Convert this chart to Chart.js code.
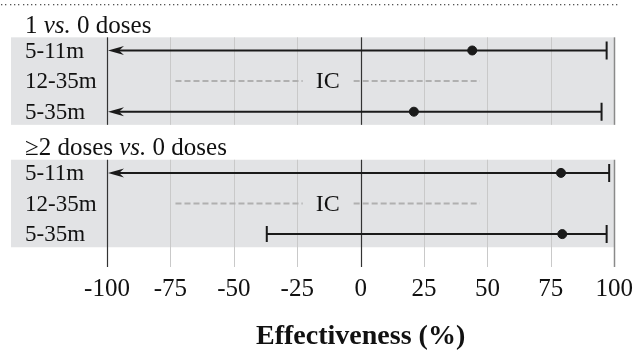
<!DOCTYPE html>
<html>
<head>
<meta charset="utf-8">
<script src="https://cdn.jsdelivr.net/npm/chart.js@4.4.1/dist/chart.umd.min.js"></script>
<style>
  html, body { margin: 0; padding: 0; background: #fff; }
  #wrap { width: 640px; height: 351px; }
</style>
</head>
<body>
<div id="wrap"><canvas id="effChart" width="640" height="351"></canvas></div>
<script>
// comparisons (panels) and age bands (rows)
const comparisons = [['1 ', 'vs.', ' 0 doses'], ['\u22652 doses ', 'vs.', ' 0 doses']];
const ageBands = ['5-11m', '12-35m', '5-35m'];

// point estimates, null = IC (insufficient cases)
const estimate1 = [44, null, 21];
const estimate2 = [79, null, 79.5];
// lower CI, null = extends past -100 (arrow)
const lower1 = [null, null, null];
const lower2 = [null, null, -37];
// upper CI
const upper1 = [97, null, 95];
const upper2 = [98, null, 97];

// range of the dashed IC placeholder
const icRange = [-73, 47];
const xTicks = [-100, -75, -50, -25, 0, 25, 50, 75, 100];

const estimates = [estimate1, estimate2];
const lowers = [lower1, lower2];
const uppers = [upper1, upper2];

const rowY = (p, r) => p * 4 + r;

const pointData = [];
estimates.forEach((est, p) => {
    est.forEach((v, r) => {
        if (v !== null) pointData.push({ x: v, y: rowY(p, r) });
    });
});

const serif = "'Liberation Serif', 'Times New Roman', serif";

const forestPlugin = {
    id: 'forest',
    beforeDatasetsDraw(chart) {
        const { ctx, chartArea, scales: { x, y } } = chart;
        const half = 0.43;
        ctx.save();

        // dotted rule at top
        ctx.fillStyle = '#555';
        for (let px = 1; px < 620; px += 4.3) {
            ctx.fillRect(Math.round(px), 4, 1.3, 1.3);
        }

        comparisons.forEach((title, p) => {
            const top = y.getPixelForValue(rowY(p, 0) - half);
            const bot = y.getPixelForValue(rowY(p, 2) + half);
            ctx.fillStyle = '#e2e3e5';
            ctx.fillRect(11, top, chartArea.right - 11, bot - top);

            // grid lines inside the panel (last panel runs down to the axis)
            const lineBot = p === comparisons.length - 1 ? chartArea.bottom : bot;
            xTicks.forEach(t => {
                const px = Math.round(x.getPixelForValue(t)) + 0.5;
                if (t === -100 || t === 0) { ctx.strokeStyle = '#333'; ctx.lineWidth = 1.2; }
                else if (t === 100) { ctx.strokeStyle = '#8a8a8a'; ctx.lineWidth = 1.5; }
                else { ctx.strokeStyle = '#c9c9c9'; ctx.lineWidth = 1; }
                ctx.beginPath();
                ctx.moveTo(px, top);
                ctx.lineTo(px, lineBot);
                ctx.stroke();
            });

            // panel title, "vs." in italics
            ctx.fillStyle = '#111';
            ctx.textBaseline = 'alphabetic';
            ctx.textAlign = 'left';
            let tx = 25;
            const ty = y.getPixelForValue(rowY(p, -1)) + 13;
            title.forEach((part, i) => {
                ctx.font = (i === 1 ? 'italic ' : '') + '25px ' + serif;
                ctx.fillText(part, tx, ty);
                tx += ctx.measureText(part).width;
            });

            ctx.font = '23px ' + serif;
            ctx.textBaseline = 'middle';
            ageBands.forEach((band, r) => {
                ctx.fillText(band, 25, y.getPixelForValue(rowY(p, r)) + 1);
            });

            estimates[p].forEach((v, r) => {
                const py = y.getPixelForValue(rowY(p, r));
                if (v === null) {
                    // insufficient cases
                    const mid = (x.getPixelForValue(icRange[0]) + x.getPixelForValue(icRange[1])) / 2;
                    ctx.font = '24px ' + serif;
                    ctx.textAlign = 'center';
                    ctx.fillStyle = '#111';
                    ctx.fillText('IC', mid, py + 1);
                    ctx.strokeStyle = '#b0b0b0';
                    ctx.lineWidth = 2;
                    ctx.setLineDash([6, 3]);
                    ctx.beginPath();
                    ctx.moveTo(x.getPixelForValue(icRange[0]), py);
                    ctx.lineTo(mid - 25, py);
                    ctx.moveTo(mid + 26, py);
                    ctx.lineTo(x.getPixelForValue(icRange[1]), py);
                    ctx.stroke();
                    ctx.setLineDash([]);
                    ctx.textAlign = 'left';
                    return;
                }
                const lo = lowers[p][r];
                const hi = uppers[p][r];
                const xl = x.getPixelForValue(lo === null ? -100 : lo);
                const xh = x.getPixelForValue(hi);
                ctx.strokeStyle = '#1a1a1a';
                ctx.fillStyle = '#1a1a1a';
                ctx.lineWidth = 2;
                ctx.beginPath();
                ctx.moveTo(lo === null ? xl + 8 : xl, py);
                ctx.lineTo(xh, py);
                ctx.moveTo(xh, py - 9);
                ctx.lineTo(xh, py + 9);
                if (lo !== null) {
                    ctx.moveTo(xl, py - 8);
                    ctx.lineTo(xl, py + 8);
                }
                ctx.stroke();
                if (lo === null) {
                    ctx.beginPath();
                    ctx.moveTo(xl + 1, py);
                    ctx.lineTo(xl + 17, py - 4.5);
                    ctx.lineTo(xl + 12, py);
                    ctx.lineTo(xl + 17, py + 4.5);
                    ctx.closePath();
                    ctx.fill();
                }
            });
        });
        ctx.restore();
    }
};

new Chart(document.getElementById('effChart'), {
    type: 'scatter',
    data: {
        datasets: [{
            data: pointData,
            backgroundColor: '#1a1a1a',
            borderColor: '#1a1a1a',
            pointRadius: 4.5,
            pointHoverRadius: 4.5,
        }]
    },
    plugins: [forestPlugin],
    options: {
        responsive: false,
        animation: false,
        layout: { padding: { left: 107, right: 19, top: 0, bottom: 0 } },
        plugins: { legend: { display: false }, tooltip: { enabled: false } },
        scales: {
            x: {
                type: 'linear',
                min: -100,
                max: 100,
                afterBuildTicks: (axis) => { axis.ticks = xTicks.map(v => ({ value: v })); },
                afterFit: (axis) => { axis.height = 84; },
                grid: { display: false, drawTicks: false },
                border: { display: false },
                ticks: {
                    color: '#111',
                    padding: 7,
                    maxRotation: 0,
                    font: { family: serif, size: 25 },
                },
                title: {
                    display: true,
                    text: 'Effectiveness (%)',
                    color: '#111',
                    padding: { top: 10, bottom: 0 },
                    font: { family: serif, size: 28, weight: 'bold', lineHeight: 1.05 },
                }
            },
            y: {
                type: 'linear',
                reverse: true,
                min: -1.47,
                max: 7.075,
                display: false,
            }
        }
    }
});
</script>
</body>
</html>
